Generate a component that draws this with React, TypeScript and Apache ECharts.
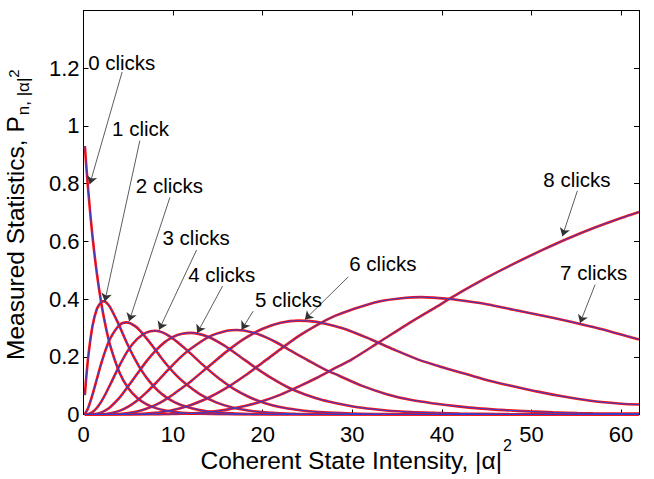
import React, { useEffect, useRef } from "react";
import * as echarts from "echarts";

// ---- data (x = |alpha|^2, y = probability) ----
const counts0: number[][] = [[0.15,0.9305],[0.5,0.7866],[1,0.6188],[1.5,0.4868],[2,0.3829],[2.5,0.3012],[3,0.2369],[4,0.1466],[5,0.0907],[6,0.0575],[7,0.0362],[8,0.0229],[9,0.0144],[10,0.0091],[11,0.0058],[12,0.0038],[14,0.0016],[16,0.0007],[18,0.0003],[20,0.0001],[30,0],[62,0]];
const counts1: number[][] = [[0.15,0.0673],[0.5,0.1916],[1,0.3061],[1.5,0.3667],[2,0.3905],[2.2,0.3927],[2.47,0.3899],[2.93,0.3739],[3.84,0.3182],[4.75,0.2539],[5.65,0.1973],[6.56,0.1487],[7.47,0.1106],[8.38,0.0806],[9.29,0.0583],[10.2,0.0421],[11.11,0.0307],[12.93,0.0157],[14.75,0.0078],[16.56,0.0038],[18.38,0.0018],[20.2,0.0009],[22,0.0004],[30,0.0001],[62,0]];
const counts2: number[][] = [[0.15,0.0022],[0.5,0.0209],[1,0.068],[1.5,0.1239],[2,0.1787],[2.5,0.2264],[3,0.2645],[4,0.3096],[4.8,0.3193],[5.87,0.3038],[6.76,0.2745],[7.66,0.2393],[8.55,0.202],[9.44,0.1672],[10.34,0.1363],[11.23,0.1108],[13.02,0.0697],[14.8,0.0421],[16.59,0.0246],[18.38,0.0139],[20.16,0.0078],[21.95,0.0042],[23.7,0.0024],[25.5,0.0013],[27.3,0.0008],[35,0.0002],[62,0]];
const counts3: number[][] = [[0.15,0.0001],[0.5,0.0013],[1,0.0084],[1.5,0.0235],[2,0.0457],[2.5,0.0736],[3,0.1049],[4,0.1687],[5,0.224],[6,0.2619],[7,0.2838],[8,0.29],[8.88,0.2838],[9.75,0.2682],[10.63,0.2471],[11.51,0.224],[13.26,0.1737],[15.02,0.1273],[16.77,0.0889],[18.53,0.0598],[20.28,0.0392],[22.04,0.025],[23.79,0.0163],[25.54,0.0105],[27.3,0.007],[29.9,0.0035],[32.6,0.0018],[35.2,0.0009],[45,0.0002],[62,0]];
const counts4: number[][] = [[0.15,0],[0.5,0.0001],[1,0.0006],[1.5,0.0028],[2,0.0073],[2.5,0.015],[3,0.026],[4,0.0575],[5,0.0984],[6,0.1412],[7,0.1834],[8,0.2197],[9,0.2491],[10,0.2691],[11,0.28],[12,0.283],[13.82,0.2702],[15.64,0.2402],[17.45,0.2012],[19.27,0.1608],[21.09,0.1241],[22.91,0.0927],[24.73,0.0692],[26.55,0.0511],[28.36,0.0383],[31.09,0.0231],[33.82,0.0139],[36.55,0.0084],[39.27,0.0056],[42,0.0035],[44.73,0.0023],[47.45,0.0014],[55,0.0007],[62,0.0003]];
const counts5: number[][] = [[0.15,0],[1.5,0.0002],[2,0.0007],[2.5,0.0019],[3,0.0042],[4,0.0125],[5,0.0277],[6,0.0487],[7,0.0758],[8,0.1066],[9,0.14],[10,0.1727],[11,0.2031],[12,0.2288],[14,0.2692],[16,0.29],[17.1,0.2929],[17.9,0.2913],[19.67,0.2766],[21.44,0.2513],[23.21,0.2198],[24.98,0.1889],[26.75,0.1592],[28.52,0.1345],[31.18,0.0982],[33.83,0.0705],[36.48,0.0508],[39.14,0.0382],[41.8,0.0281],[44.45,0.0205],[47.1,0.015],[49.76,0.0107],[52.4,0.0074],[55.1,0.005],[56.85,0.004],[62,0.003]];
const counts6: number[][] = [[0.15,0],[2.5,0.0002],[3,0.0004],[4,0.0017],[5,0.0049],[6,0.0105],[7,0.0196],[8,0.0323],[9,0.0491],[10,0.0693],[11,0.0921],[12,0.1156],[14,0.1675],[16,0.2187],[18,0.2635],[20,0.2973],[22,0.3179],[24,0.3254],[25.8,0.3219],[27.56,0.3104],[29.33,0.2949],[31.99,0.2615],[34.64,0.2251],[37.3,0.1911],[39.96,0.1645],[42.8,0.1391],[45.4,0.1162],[48.07,0.0972],[50.7,0.0792],[53.4,0.0631],[56.05,0.0502],[57.8,0.0431],[60,0.0375],[62,0.0345]];
const counts7: number[][] = [[0.15,0],[4,0.0001],[5,0.0005],[6,0.0013],[7,0.0029],[8,0.0055],[9,0.0097],[10,0.0157],[11,0.0235],[12,0.0329],[14,0.0588],[16,0.0929],[18,0.1343],[20,0.18],[22,0.2266],[24,0.2714],[26,0.3091],[28,0.3407],[30,0.3642],[33,0.3919],[36,0.4047],[37.7,0.4068],[39,0.405],[41,0.4],[42,0.396],[45,0.382],[48,0.363],[51,0.344],[54,0.324],[57,0.302],[60,0.277],[62,0.26]];
const counts8: number[][] = [[0.15,0],[6,0.0001],[7,0.0002],[8,0.0004],[9,0.0008],[10,0.0015],[11,0.0026],[12,0.004],[14,0.0088],[16,0.0169],[18,0.0292],[20,0.0465],[22,0.0689],[24,0.0966],[26,0.1266],[28,0.1596],[30,0.192],[33,0.2507],[36,0.31],[39,0.366],[42,0.422],[45,0.474],[48,0.522],[51,0.567],[54,0.609],[57,0.647],[60,0.681],[62,0.702]];
const curves = [counts0, counts1, counts2, counts3, counts4, counts5, counts6, counts7, counts8];

// axis ranges / ticks
const xMin = 0, xMax = 62, xStep = 10;
const yMin = 0, yMax = 1.4, yStep = 0.2, yLabelMax = 1.2;

// annotations (data coordinates)
const annotationLabels = ["0 clicks", "1 click", "2 clicks", "3 clicks", "4 clicks", "5 clicks", "6 clicks", "7 clicks", "8 clicks"];
const labelAnchors = [[0.52,1.221],[3.19,0.992],[5.84,0.795],[8.82,0.613],[11.68,0.485],[19.13,0.400],[29.66,0.524],[53.19,0.491],[51.32,0.816]];
const arrowTails = [[4.31,1.187],[6.29,0.949],[9.64,0.752],[12.62,0.570],[15.52,0.445],[18.94,0.358],[29.55,0.477],[57.10,0.450],[55.12,0.775]];
const arrowHeads = [[0.70,0.798],[2.38,0.392],[5.09,0.323],[8.44,0.294],[12.69,0.282],[17.64,0.294],[24.71,0.329],[55.42,0.317],[53.45,0.618]];

const FONT = '"Liberation Sans", Arial, Helvetica, sans-serif';

function measure(text: string, size: number): number {
  const c = document.createElement("canvas").getContext("2d");
  if (!c) return text.length * size * 0.5;
  c.font = `${size}px ${FONT}`;
  return c.measureText(text).width;
}

export default function App() {
  const ref = useRef<HTMLDivElement>(null);
  useEffect(() => {
    if (!ref.current) return;
    const chart = echarts.init(ref.current, null, { renderer: "svg" });
    const axisCommon = {
      type: "value" as const,
      axisLine: { show: true, onZero: false, lineStyle: { color: "#000", width: 1 } },
      axisTick: { show: true, inside: true, length: 5, lineStyle: { color: "#000", width: 1 } },
      splitLine: { show: false },
    };
    const redSeries = curves.map((c, i) => ({
      type: "line",
      name: "data" + i,
      data: c,
      showSymbol: false,
      smooth: 0.3,
      lineStyle: { color: "#ff1010", width: 2.6 },
      z: 2,
      silent: true,
    }));
    const blueSeries: any[] = curves.map((c, i) => ({
      type: "line",
      name: "fit" + i,
      data: c,
      showSymbol: false,
      smooth: 0.3,
      lineStyle: { color: "#3040d0", width: 1 },
      z: 3,
      silent: true,
    }));
    blueSeries[blueSeries.length - 1].markLine = {
      silent: true,
      animation: false,
      symbol: ["none", "arrow"],
      symbolSize: 8,
      label: { show: false },
      lineStyle: { color: "#333", width: 0.8, type: "solid" },
      data: arrowTails.map((t, i) => [{ coord: t }, { coord: arrowHeads[i] }]),
    };
    chart.setOption({
      animation: false,
      grid: { left: 83.5, right: 15, top: 10.5, bottom: 64.5, containLabel: false },
      xAxis: [
        {
          ...axisCommon,
          position: "bottom",
          min: xMin, max: xMax, interval: xStep,
          axisLabel: {
            color: "#000", fontSize: 22, fontFamily: FONT, margin: 9,
            formatter: (v: number) => (v % xStep === 0 ? String(v) : ""),
          },
        },
        { ...axisCommon, position: "top", min: xMin, max: xMax, interval: xStep, axisLabel: { show: false } },
      ],
      yAxis: [
        {
          ...axisCommon,
          position: "left",
          min: yMin, max: yMax, interval: yStep,
          axisLabel: {
            color: "#000", fontSize: 22, fontFamily: FONT, margin: 4,
            formatter: (v: number) => (v <= yLabelMax + 1e-9 ? String(Math.round(v * 10) / 10) : ""),
          },
        },
        { ...axisCommon, position: "right", min: yMin, max: yMax, interval: yStep, axisLabel: { show: false } },
      ],
      series: [...redSeries, ...blueSeries],
    });

    const annText = annotationLabels.map((t, i) => {
      const p = chart.convertToPixel({ seriesIndex: 0 }, labelAnchors[i]) as number[];
      return {
        type: "text",
        x: p[0], y: p[1], z: 10,
        style: { text: t, fill: "#000", fontSize: 20.5, fontFamily: FONT, align: "left", verticalAlign: "middle", textAlign: "left", textVerticalAlign: "middle" },
      };
    });

    // axis titles
    const xMain = "Coherent State Intensity, |\u03b1|";
    const yMain = "Measured Statistics, P";
    const ySub = "n, |\u03b1|";
    const mainSize = 24.5, subSize = 17, supSize = 15;
    const yMainW = measure(yMain, mainSize);
    const ySubW = measure(ySub, subSize);
    const yStart = 360;
    const titles: any[] = [
      { type: "text", x: 502, y: 460, style: { text: xMain, fill: "#000", fontSize: mainSize, fontFamily: FONT, align: "right", verticalAlign: "middle", textAlign: "right", textVerticalAlign: "middle" } },
      { type: "text", x: 503, y: 445, style: { text: "2", fill: "#000", fontSize: 16, fontFamily: FONT, align: "left", verticalAlign: "middle", textAlign: "left", textVerticalAlign: "middle" } },
      { type: "text", x: 15.5, y: yStart, rotation: Math.PI / 2, style: { text: yMain, fill: "#000", fontSize: mainSize, fontFamily: FONT, align: "left", verticalAlign: "middle", textAlign: "left", textVerticalAlign: "middle" } },
      { type: "text", x: 23.5, y: yStart - yMainW - 1, rotation: Math.PI / 2, style: { text: ySub, fill: "#000", fontSize: subSize, fontFamily: FONT, align: "left", verticalAlign: "middle", textAlign: "left", textVerticalAlign: "middle" } },
      { type: "text", x: 13.5, y: yStart - yMainW - ySubW - 1, rotation: Math.PI / 2, style: { text: "2", fill: "#000", fontSize: supSize, fontFamily: FONT, align: "left", verticalAlign: "middle", textAlign: "left", textVerticalAlign: "middle" } },
    ];
    chart.setOption({ graphic: [...annText, ...titles] });
    return () => chart.dispose();
  }, []);
  return <div ref={ref} style={{ width: 654, height: 479, position: "absolute", left: 0, top: 0, background: "#fff" }} />;
}
